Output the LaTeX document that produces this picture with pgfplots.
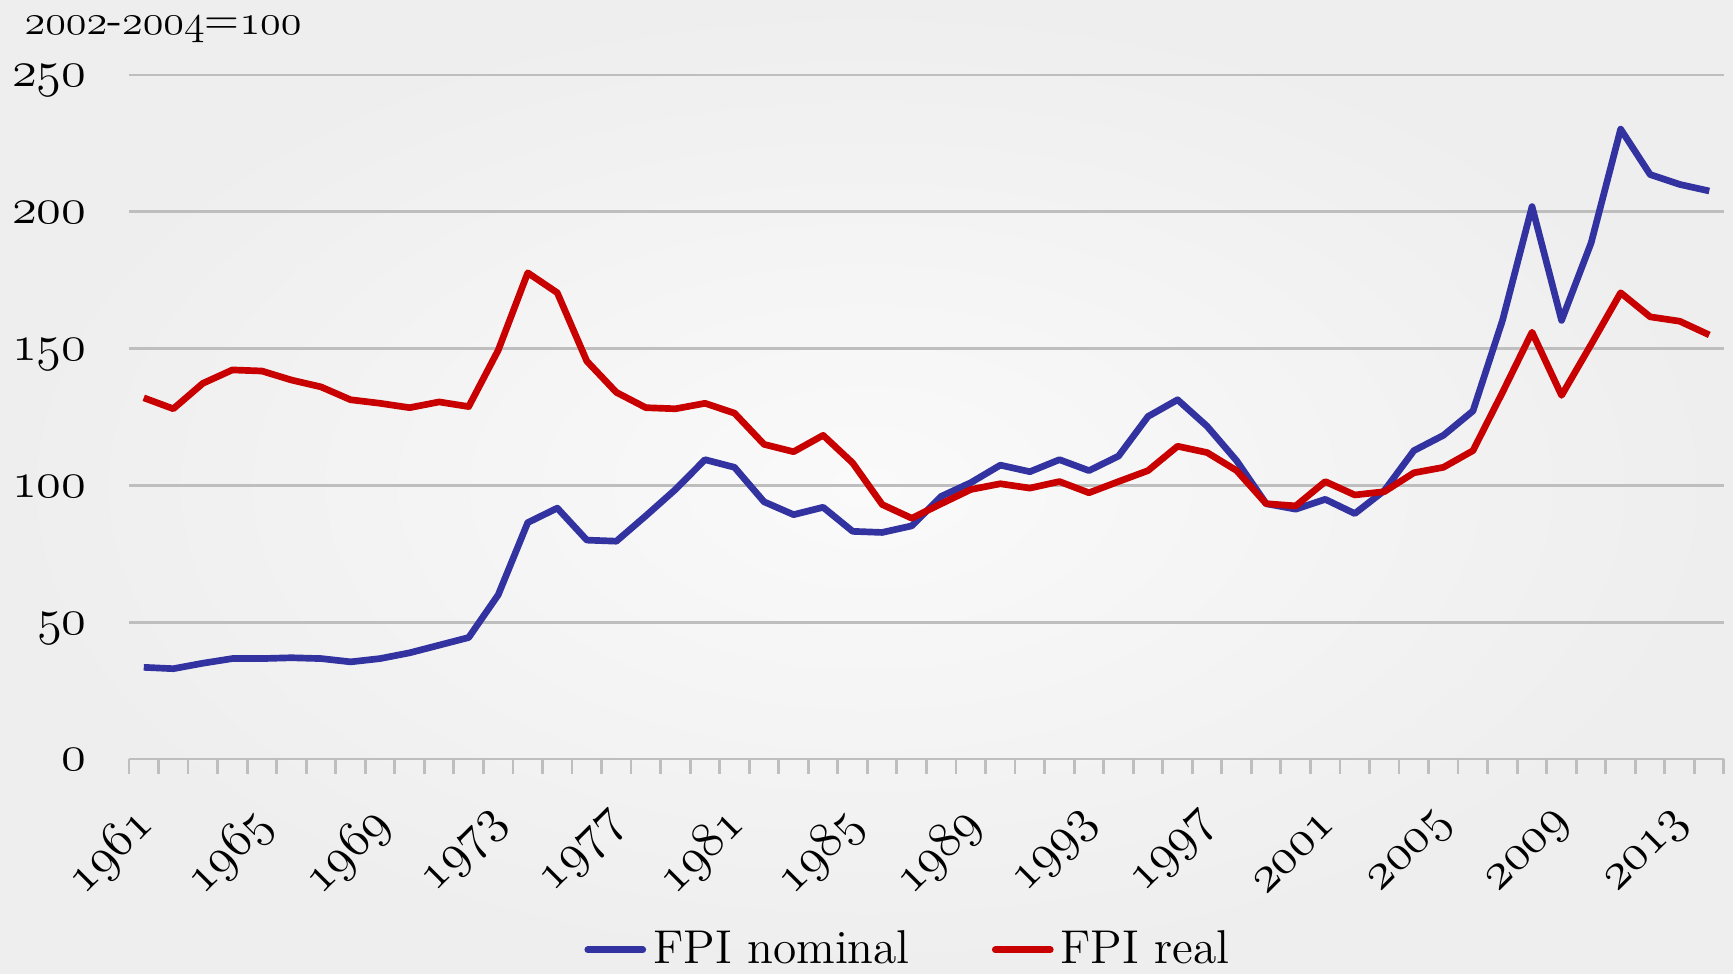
\documentclass[border=0pt]{standalone}
\usepackage{pgfplots}
\pgfplotsset{compat=1.18}
\makeatletter
\def\os#1{\ensuremath{\os@loop#1\relax}}
\def\os@loop#1{\ifx#1\relax\else\mathchar\numexpr"0130+#1\relax\expandafter\os@loop\fi}
\makeatother
\definecolor{fpiblue}{RGB}{50,50,160}
\definecolor{fpired}{RGB}{200,0,0}
\definecolor{gridgray}{RGB}{190,190,190}
\pgfplotstableread{
year nominal real
1961 33.5 132.0
1962 33.0 128.0
1963 35.0 137.3
1964 36.7 142.2
1965 36.7 141.8
1966 37.0 138.5
1967 36.7 136.0
1968 35.5 131.3
1969 36.7 130.0
1970 38.8 128.4
1971 41.6 130.5
1972 44.4 128.8
1973 60.0 149.4
1974 86.4 177.7
1975 91.7 170.4
1976 80.0 145.4
1977 79.6 134.0
1978 88.9 128.4
1979 98.5 128.0
1980 109.4 130.0
1981 106.6 126.4
1982 94.0 115.0
1983 89.3 112.3
1984 92.0 118.3
1985 83.2 108.2
1986 82.8 93.0
1987 85.2 88.0
1988 96.0 93.3
1989 101.0 98.5
1990 107.4 100.6
1991 105.0 99.0
1992 109.4 101.4
1993 105.4 97.3
1994 110.7 101.4
1995 125.2 105.4
1996 131.3 114.3
1997 121.6 112.0
1998 109.0 105.4
1999 93.3 93.3
2000 91.3 92.5
2001 94.9 101.4
2002 89.7 96.5
2003 98.1 97.7
2004 112.7 104.6
2005 118.3 106.6
2006 127.2 112.7
2007 160.3 134.0
2008 201.9 156.0
2009 160.3 132.9
2010 188.6 151.5
2011 230.2 170.4
2012 213.6 161.6
2013 210.0 160.0
2014 207.6 155.0
}\fpidata
\begin{document}
\begin{tikzpicture}
\useasboundingbox (0,0) rectangle (17.33cm,9.74cm);
\shade[inner color={rgb,255:red,250;green,250;blue,250}, outer color={rgb,255:red,238;green,238;blue,238}] (0,0) rectangle (17.33cm,9.74cm);
\node[anchor=west, inner sep=0pt, font=\fontsize{13}{15}\selectfont] at (0.24cm,9.44cm) {\os{2002}-\os{2004}=\os{100}};
\begin{axis}[
  scale only axis,
  width=15.95cm, height=6.84cm,
  anchor=south west, at={(1.29cm,2.15cm)},
  xmin=1960.5, xmax=2014.5,
  ymin=0, ymax=250,
  axis x line*=bottom,
  axis y line*=left,
  x axis line style={draw=gridgray, line width=0.8pt, -},
  y axis line style={draw=none},
  ytick={0,50,100,150,200,250},
  yticklabels={\os{0},\os{50},\os{100},\os{150},\os{200},\os{250}},
  ytick style={draw=none},
  ymajorgrids,
  grid style={draw=gridgray, line width=0.8pt},
  xtick={1961,1965,...,2013},
  xticklabels={\os{1961},\os{1965},\os{1969},\os{1973},\os{1977},\os{1981},\os{1985},\os{1989},\os{1993},\os{1997},\os{2001},\os{2005},\os{2009},\os{2013}},
  minor xtick={1960.5,1961.5,...,2014.5},
  xtick align=outside,
  major tick length=0pt,
  minor tick length=0.15cm,
  minor x tick style={draw=gridgray, line width=0.8pt},
  xmajorgrids=false, xminorgrids=false,
  yticklabel style={font=\fontsize{15}{17}\selectfont, anchor=base east, xshift=-0.3cm, yshift=-3.4pt},
  xticklabel style={font=\fontsize{14}{16}\selectfont, xshift=0.12cm, yshift=-0.5cm, rotate=45, anchor=east},
  legend style={at={(0.49,-0.279)}, anchor=center, draw=none, fill=none,
    font=\fontsize{13.5}{16}\selectfont,
    /tikz/every even column/.append style={column sep=0.75cm}},
  legend columns=2,
  legend image code/.code={\draw[#1, line cap=round] (0cm,0cm) -- (0.55cm,0cm);},
  clip=false,
]
\addplot[fpiblue, line width=1.9pt, line join=round] table[x=year, y=nominal] {\fpidata};
\addlegendentry{FPI nominal}
\addplot[fpired, line width=1.9pt, line join=round] table[x=year, y=real] {\fpidata};
\addlegendentry{FPI real}
\end{axis}
\end{tikzpicture}
\end{document}
